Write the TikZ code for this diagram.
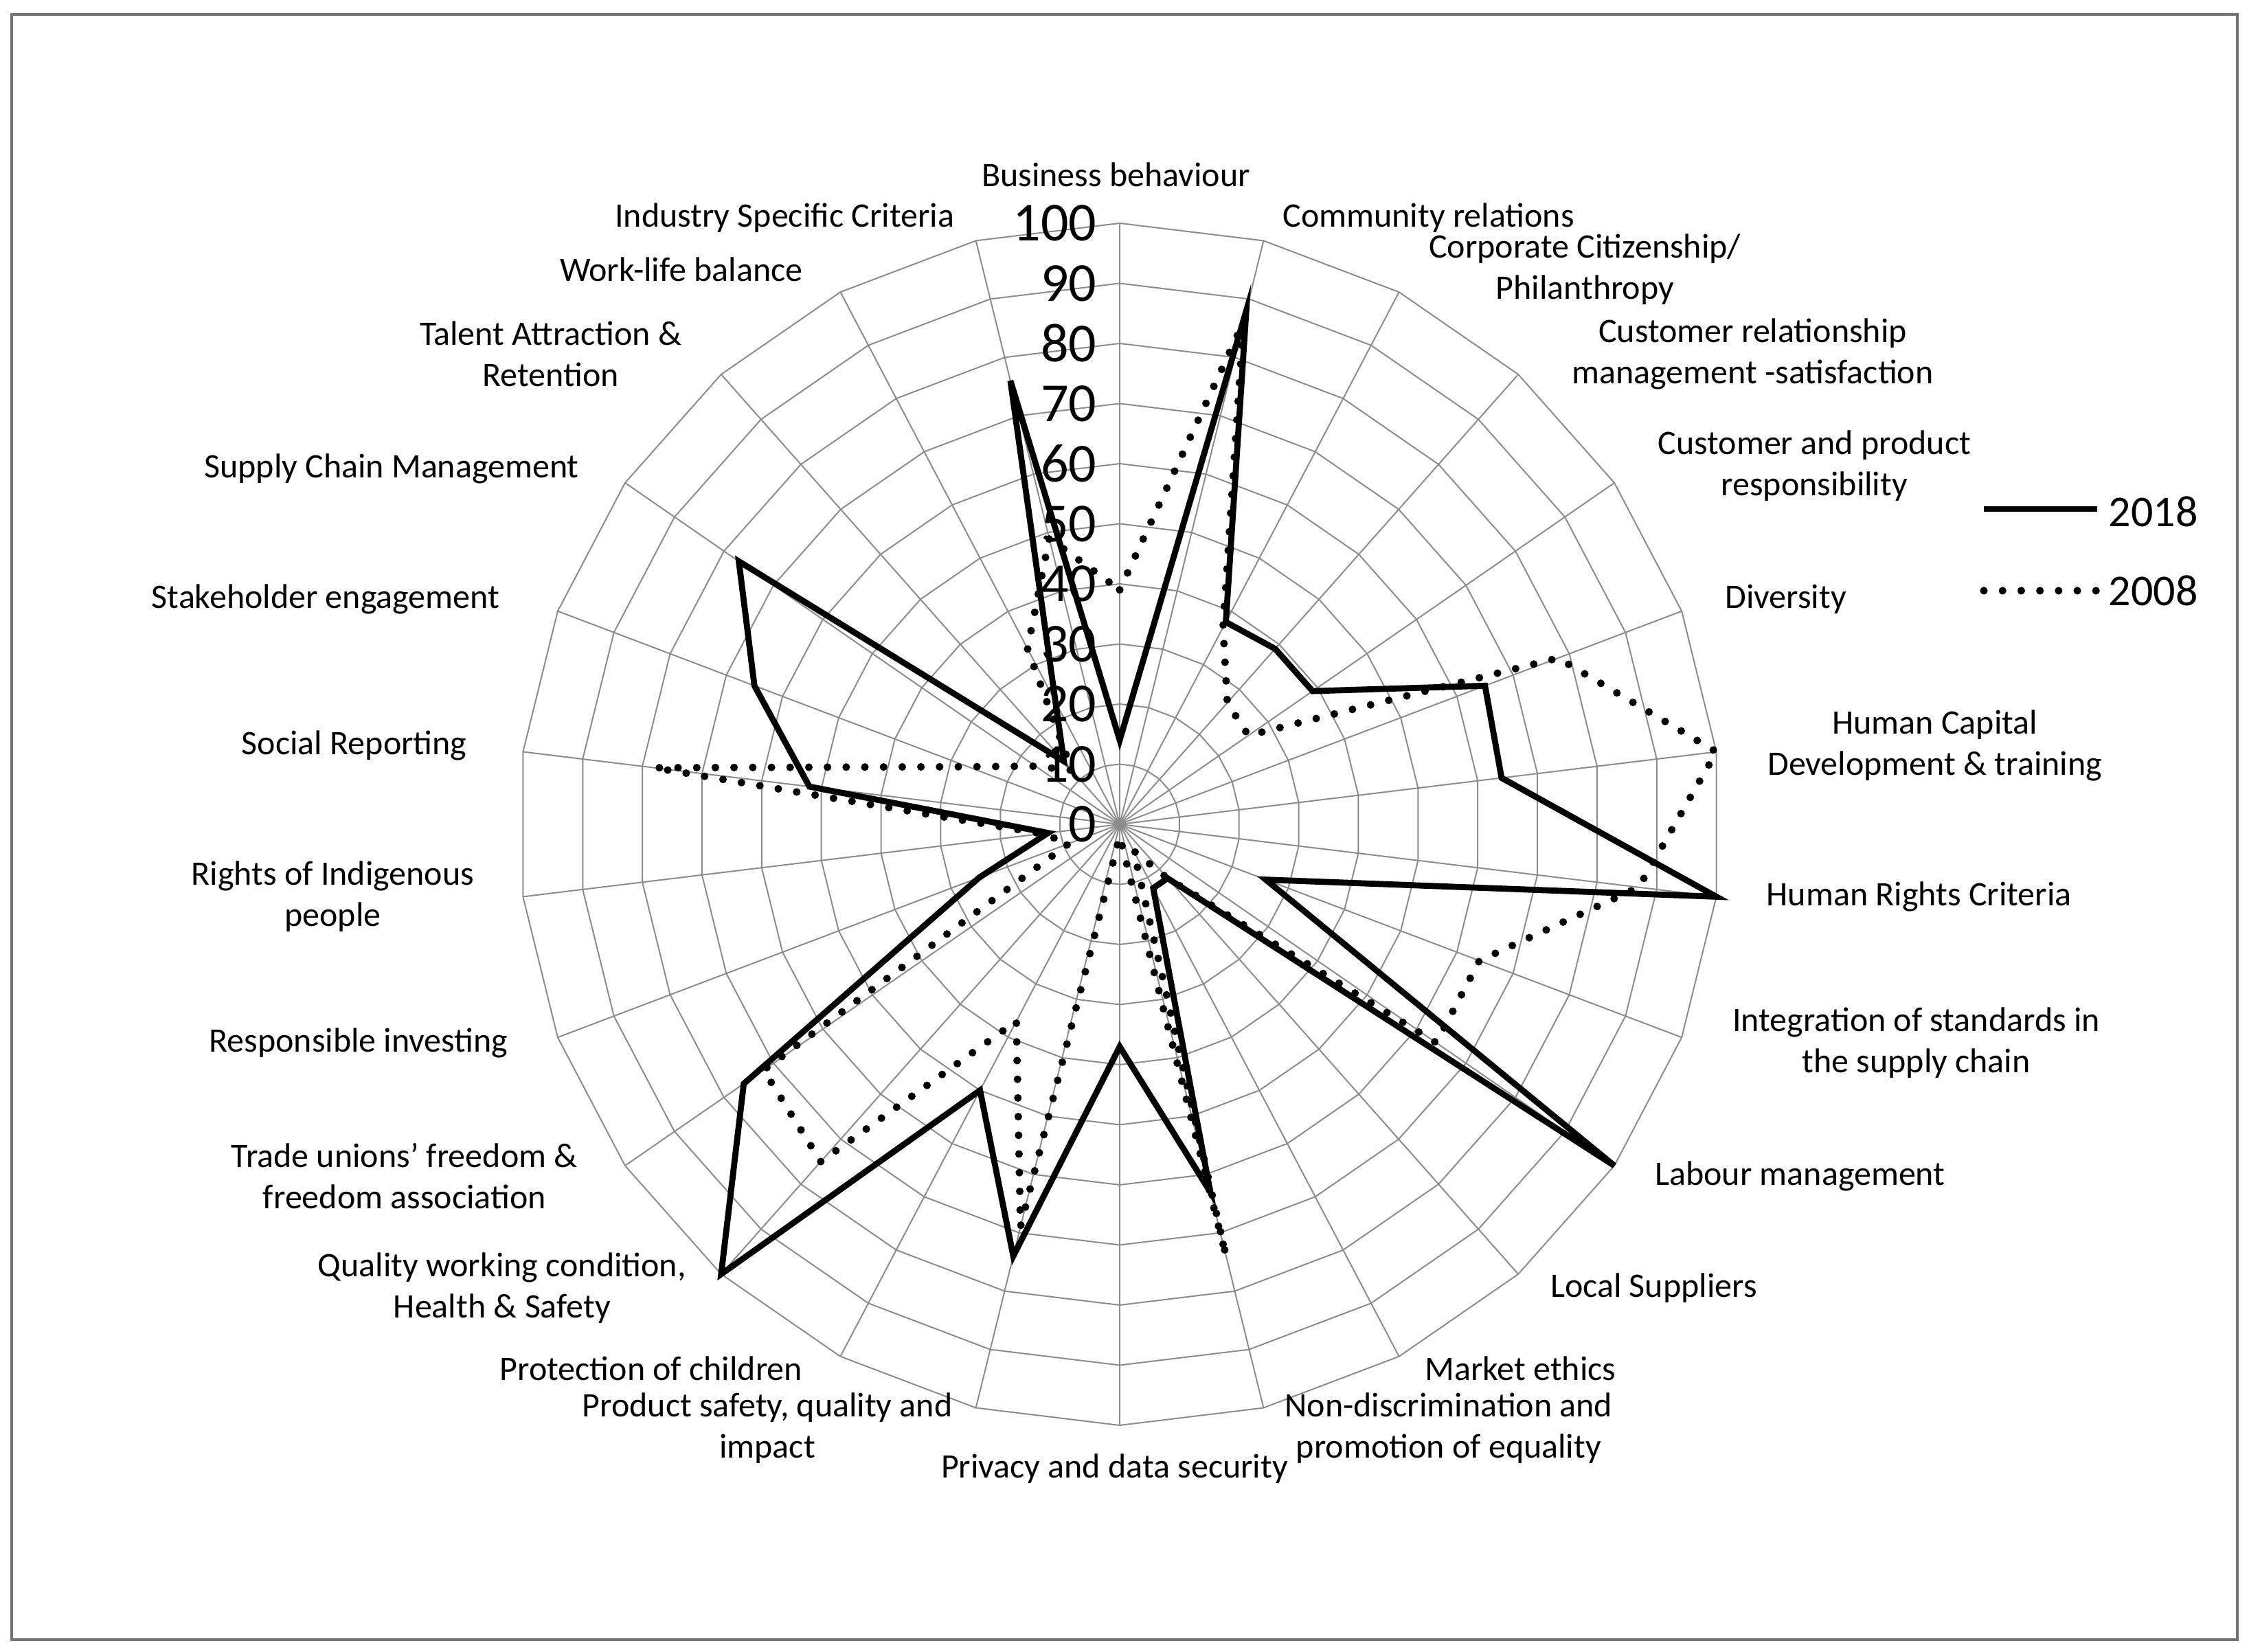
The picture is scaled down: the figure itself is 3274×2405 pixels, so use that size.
\documentclass[tikz,border=0pt]{standalone}
\usepackage{fontspec}
\setmainfont{Carlito}
\begin{document}
\begin{tikzpicture}[x=0.25pt,y=0.25pt,
  lab/.style={font=\fontsize{12.5}{15}\selectfont,align=center,inner sep=0pt},
  num/.style={font=\fontsize{20}{22}\selectfont,anchor=east,inner sep=0pt},
  grid/.style={draw=black!45,line width=0.5pt},
  s18/.style={line width=2.2pt,line join=miter},
  s08/.style={line width=2.8pt,line cap=round,dash pattern=on 0pt off 6.8pt},
  leg/.style={font=\fontsize{16}{18}\selectfont,anchor=west,inner sep=0pt}]
\useasboundingbox (0,0) rectangle (3274,2405);
\draw[draw=black!55,line width=0.8pt] (17,18) rectangle (3257,2384);
\begin{scope}[shift={(1630,1205)}]
  \foreach \r in {10,20,...,100}{
    \draw[grid] (90:\r*8.75) \foreach \k in {1,...,25}{ -- ({90-\k*13.8462}:\r*8.75)} -- cycle;}
  \foreach \k in {0,...,25}{\draw[grid] (0,0) -- ({90-\k*13.8462}:875);}
  \coordinate (c) at (0,0);
  \draw[s18] (90:14*8.75)
   \foreach \v [count=\k] in {88,38,39,39,65,64,100,26,100,12,12,63,37,74,50,100,76,25,12,52,65,77,14,23,76}
   { -- ({90-\k*13.8462}:\v*8.75)} -- cycle;
  \draw[s08] (90:39*8.75)
   \foreach \v [count=\k] in {86,37,27,26,78,100,87,64,64,12,5,74,2,69,37,75,72,9,13,78,27,17,12,33,49}
   { -- ({90-\k*13.8462}:\v*8.75)} -- cycle;
  \foreach \n in {0,10,...,100}{\node[num] (n\n) at (-33,\n*8.75) {\n};}
\end{scope}
\def\P(#1,#2){({#1*2.088},{2405-#2*2.088})}
\node[lab] (l0) at \P(778,122) {Business behaviour};
\node[lab] (l1) at \P(996,152) {Community relations};
\node[lab] (l2) at \P(1105,188) {Corporate Citizenship/\\Philanthropy};
\node[lab] (l3) at \P(1222,247) {Customer relationship\\management -satisfaction};
\node[lab] (l4) at \P(1265,325) {Customer and product\\responsibility};
\node[lab] (l5) at \P(1245,418) {Diversity};
\node[lab] (l6) at \P(1349,520) {Human Capital\\Development \& training};
\node[lab] (l7) at \P(1338,625) {Human Rights Criteria};
\node[lab] (l8) at \P(1336,727) {Integration of standards in\\the supply chain};
\node[lab] (l9) at \P(1255,820) {Labour management};
\node[lab] (l10) at \P(1153,898) {Local Suppliers};
\node[lab] (l11) at \P(1060,954) {Market ethics};
\node[lab] (l12) at \P(1010,996) {Non-discrimination and\\promotion of equality};
\node[lab] (l13) at \P(777,1024) {Privacy and data security};
\node[lab] (l14) at \P(535,996) {Product safety, quality and\\impact};
\node[lab] (l15) at \P(454,954) {Protection of children};
\node[lab] (l16) at \P(350,898) {Quality working condition,\\Health \& Safety};
\node[lab] (l17) at \P(282,820) {Trade unions’ freedom \&\\freedom association};
\node[lab] (l18) at \P(250,727) {Responsible investing};
\node[lab] (l19) at \P(232,625) {Rights of Indigenous\\people};
\node[lab] (l20) at \P(247,520) {Social Reporting};
\node[lab] (l21) at \P(227,418) {Stakeholder engagement};
\node[lab] (l22) at \P(273,327) {Supply Chain Management};
\node[lab] (l23) at \P(384,247) {Talent Attraction \&\\Retention};
\node[lab] (l24) at \P(475,188) {Work-life balance};
\node[lab] (l25) at \P(547,152) {Industry Specific Criteria};
\coordinate (a1) at (2888,1664); \coordinate (a2) at (3053,1664);
\coordinate (b1) at (2888,1545); \coordinate (b2) at (3053,1545);
\draw[s18] (a1) -- (a2);
\draw[s08] (b1) -- (b2);
\node[leg] (t18) at (3069,1660) {2018};
\node[leg] (t08) at (3069,1545) {2008};
\end{tikzpicture}
\end{document}
